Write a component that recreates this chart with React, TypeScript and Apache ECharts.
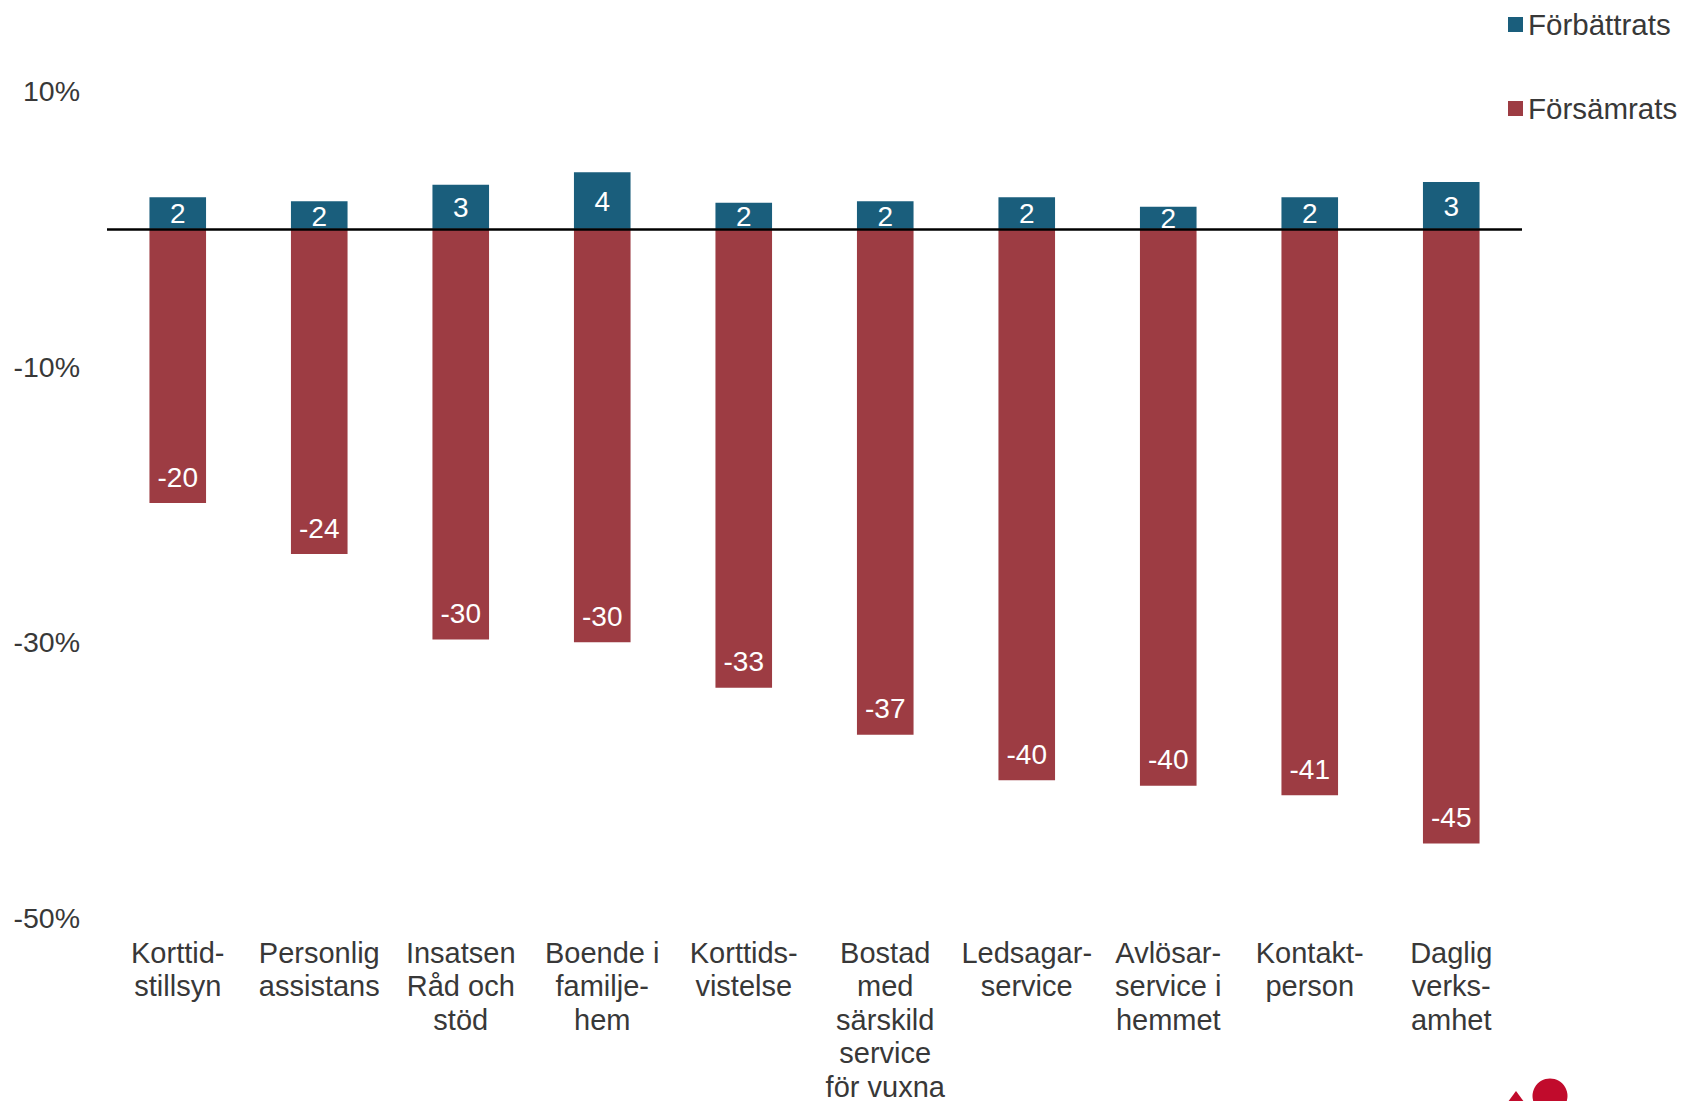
import React, { useEffect, useRef } from "react";
import * as echarts from "echarts";

const categories = [
  "Korttid-\nstillsyn",
  "Personlig\nassistans",
  "Insatsen\nRåd och\nstöd",
  "Boende i\nfamilje-\nhem",
  "Korttids-\nvistelse",
  "Bostad\nmed\nsärskild\nservice\nför vuxna",
  "Ledsagar-\nservice",
  "Avlösar-\nservice i\nhemmet",
  "Kontakt-\nperson",
  "Daglig\nverks-\namhet",
];
const improved = [2.3, 2.0, 3.2, 4.1, 1.9, 2.0, 2.3, 1.6, 2.3, 3.4];
const worsened = [-19.9, -23.6, -29.8, -30.0, -33.3, -36.7, -40.0, -40.4, -41.1, -44.6];
const seriesNames = ["Förbättrats", "Försämrats"];
const yMin = -50;
const yMax = 10;
const yStep = 10;

const FONT = "Liberation Sans, Arial, sans-serif";
const TEXT = "#383838";
const BLUE = "#1a5e7c";
const RED = "#9d3c43";

export default function App() {
  const ref = useRef<HTMLDivElement>(null);
  useEffect(() => {
    if (!ref.current) return;
    const chart = echarts.init(ref.current, undefined, { renderer: "svg" });
    chart.setOption({
      animation: false,
      textStyle: { fontFamily: FONT },
      legend: {
        orient: "vertical",
        left: 1508,
        top: 9,
        padding: 0,
        itemWidth: 15,
        itemHeight: 15,
        itemGap: 53,
        icon: "rect",
        textStyle: { fontFamily: FONT, fontSize: 29.5, color: TEXT, lineHeight: 31 },
        data: seriesNames,
      },
      grid: {
        left: 107,
        right: 161,
        top: 91,
        bottom: 183,
        containLabel: false,
        outerBoundsMode: "none",
      },
      xAxis: {
        type: "category",
        data: categories,
        axisLine: { show: false, onZero: false },
        axisTick: { show: false },
        axisLabel: {
          interval: 0,
          margin: 18,
          fontFamily: FONT,
          fontSize: 29,
          lineHeight: 33.5,
          color: TEXT,
          align: "center",
        },
      },
      yAxis: {
        type: "value",
        min: yMin,
        max: yMax,
        interval: yStep,
        splitLine: { show: false },
        axisLine: { show: false },
        axisTick: { show: false },
        axisLabel: {
          margin: 27,
          fontFamily: FONT,
          fontSize: 28.5,
          color: TEXT,
          formatter: (v: number) => (Math.abs(Math.round(v / 10)) % 2 === 1 ? `${v}%` : ""),
        },
      },
      series: [
        {
          name: seriesNames[0],
          type: "bar",
          stack: "a",
          data: improved,
          barWidth: "40%",
          itemStyle: { color: BLUE },
          label: {
            show: true,
            position: "inside",
            offset: [0, 1],
            color: "#fff",
            fontFamily: FONT,
            fontSize: 28,
            formatter: (p: any) => String(Math.round(p.value)),
          },
          markLine: {
            silent: true,
            symbol: "none",
            label: { show: false },
            lineStyle: { color: "#000", width: 2.5, type: "solid" },
            data: [{ yAxis: 0 }],
            z: 10,
          },
          z: 3,
        },
        {
          name: seriesNames[1],
          type: "bar",
          stack: "a",
          data: worsened,
          barWidth: "40%",
          itemStyle: { color: RED },
          label: {
            show: true,
            position: "insideBottom",
            distance: 12,
            color: "#fff",
            fontFamily: FONT,
            fontSize: 28,
            formatter: (p: any) => String(Math.round(p.value)),
          },
          z: 2,
        },
      ],
      graphic: [
        {
          type: "polygon",
          shape: { points: [[1516, 1091], [1502, 1110], [1530, 1110]] },
          style: { fill: "#c10b2c" },
        },
        {
          type: "circle",
          shape: { cx: 1550, cy: 1096, r: 17.5 },
          style: { fill: "#c10b2c" },
        },
      ],
    });
    return () => chart.dispose();
  }, []);
  return (
    <div
      ref={ref}
      style={{ position: "fixed", left: 0, top: 0, width: 1683, height: 1101, background: "#fff" }}
    />
  );
}
